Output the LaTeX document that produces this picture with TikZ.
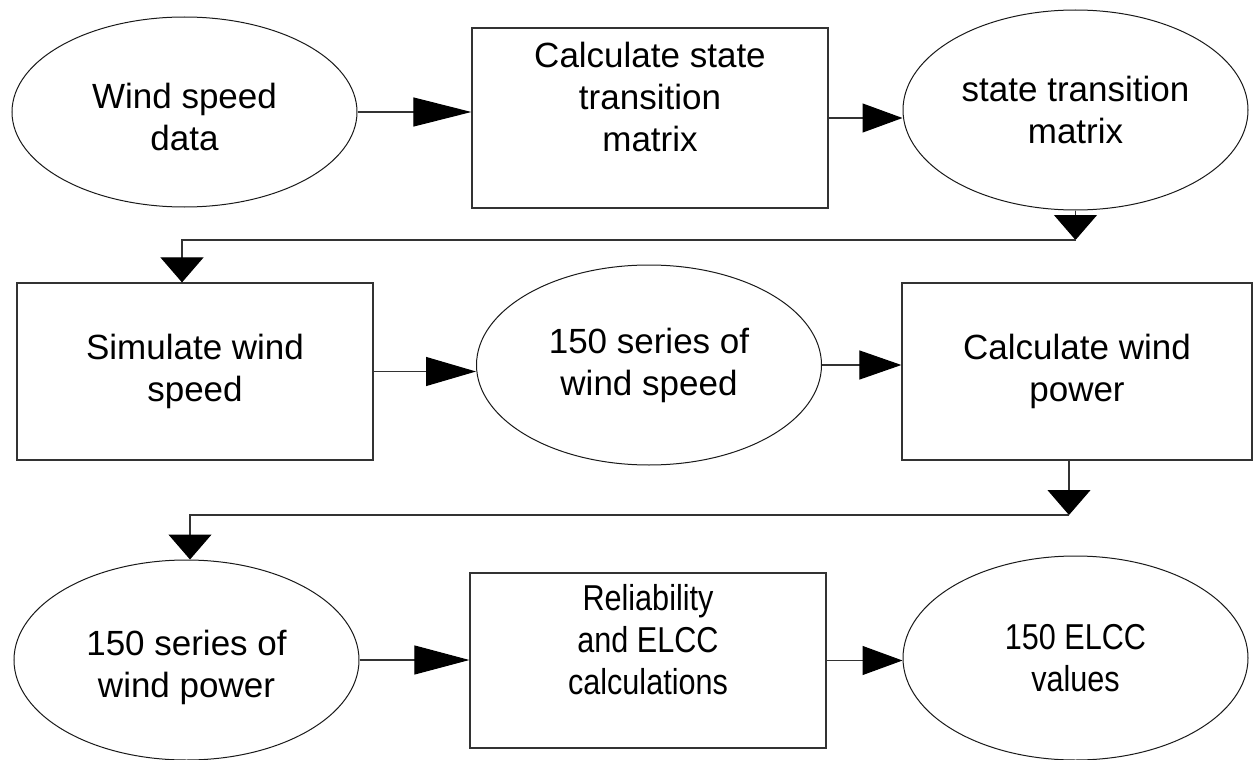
\documentclass[tikz,border=0pt]{standalone}
\usepackage{fontspec}
\setmainfont{Liberation Sans}
\newfontfamily\narrowfont{Liberation Sans}[FakeStretch=0.85]
\usetikzlibrary{shapes.geometric,arrows.meta}
\begin{document}
\begin{tikzpicture}[x=1pt,y=-1pt,
  every node/.style={font=\fontsize{35}{42}\selectfont, align=center, inner sep=0pt},
  ell/.style={ellipse, draw=black!90, line width=1pt, minimum width=345pt, minimum height=200pt},
  box/.style={rectangle, draw=black!80, line width=1.2pt, minimum width=356pt, minimum height=177pt},
  narrow/.style={font=\narrowfont\fontsize{36}{42}\selectfont},
  conn/.style={draw=black!80, line width=1.1pt},
  harr/.style={conn, -{Triangle[length=#1,width=29pt,color=black]}},
  harr/.default=50pt,
  varr/.style={conn, -{Triangle[length=25pt,width=43pt,color=black]}}
]
\useasboundingbox (0,0) rectangle (1254,760);
% row 1
\node[ell, minimum height=190pt] (e1) at (184.5,112) {\rule{0pt}{35pt}Wind speed\\data};
\node[box, minimum height=180pt] (r1) at (650,118) {Calculate state\\transition\\matrix\\\mbox{}};
\node[ell] (e2) at (1075.5,110) {state transition\\matrix};
% row 2
\node[box] (r2) at (195,371.5) {Simulate wind\\speed};
\node[ell] (e3) at (649,365) {150 series of\\wind speed};
\node[box, minimum width=350pt] (r3) at (1077,371.5) {Calculate wind\\power};
% row 3
\node[ell] (e4) at (186.5,660) {\rule{0pt}{40pt}150 series of\\wind power};
\node[box, minimum height=175pt, narrow] (r4) at (648,660.5) {Reliability\\and ELCC\\calculations\\\mbox{}};
\node[ell, minimum height=204pt, narrow] (e5) at (1075.5,658) {150 ELCC\\values};
% bus coordinates
\coordinate (b1) at (1075.5,240);
\coordinate (b1l) at (182,240);
\coordinate (b2) at (1069,515);
\coordinate (b2l) at (190,515);
% horizontal connectors
\draw[harr=58pt] (e1.east) -- (e1.east -| r1.west);
\draw[harr=40pt] (r1.east) -- (r1.east -| e2.west);
\draw[harr=50pt] (r2.east) -- (r2.east -| e3.west);
\draw[harr=42pt] (e3.east) -- (e3.east -| r3.west);
\draw[harr=55pt] (e4.east) -- (e4.east -| r4.west);
\draw[harr=40pt] (r4.east) -- (r4.east -| e5.west);
% vertical connectors
\draw[varr] (e2.south) -- (b1);
\draw[varr] (b1) -- (b1l) -- (b1l |- r2.north);
\draw[varr] (b2 |- r3.south) -- (b2);
\draw[varr] (b2) -- (b2l) -- (b2l |- e4.north);
\end{tikzpicture}
\end{document}
